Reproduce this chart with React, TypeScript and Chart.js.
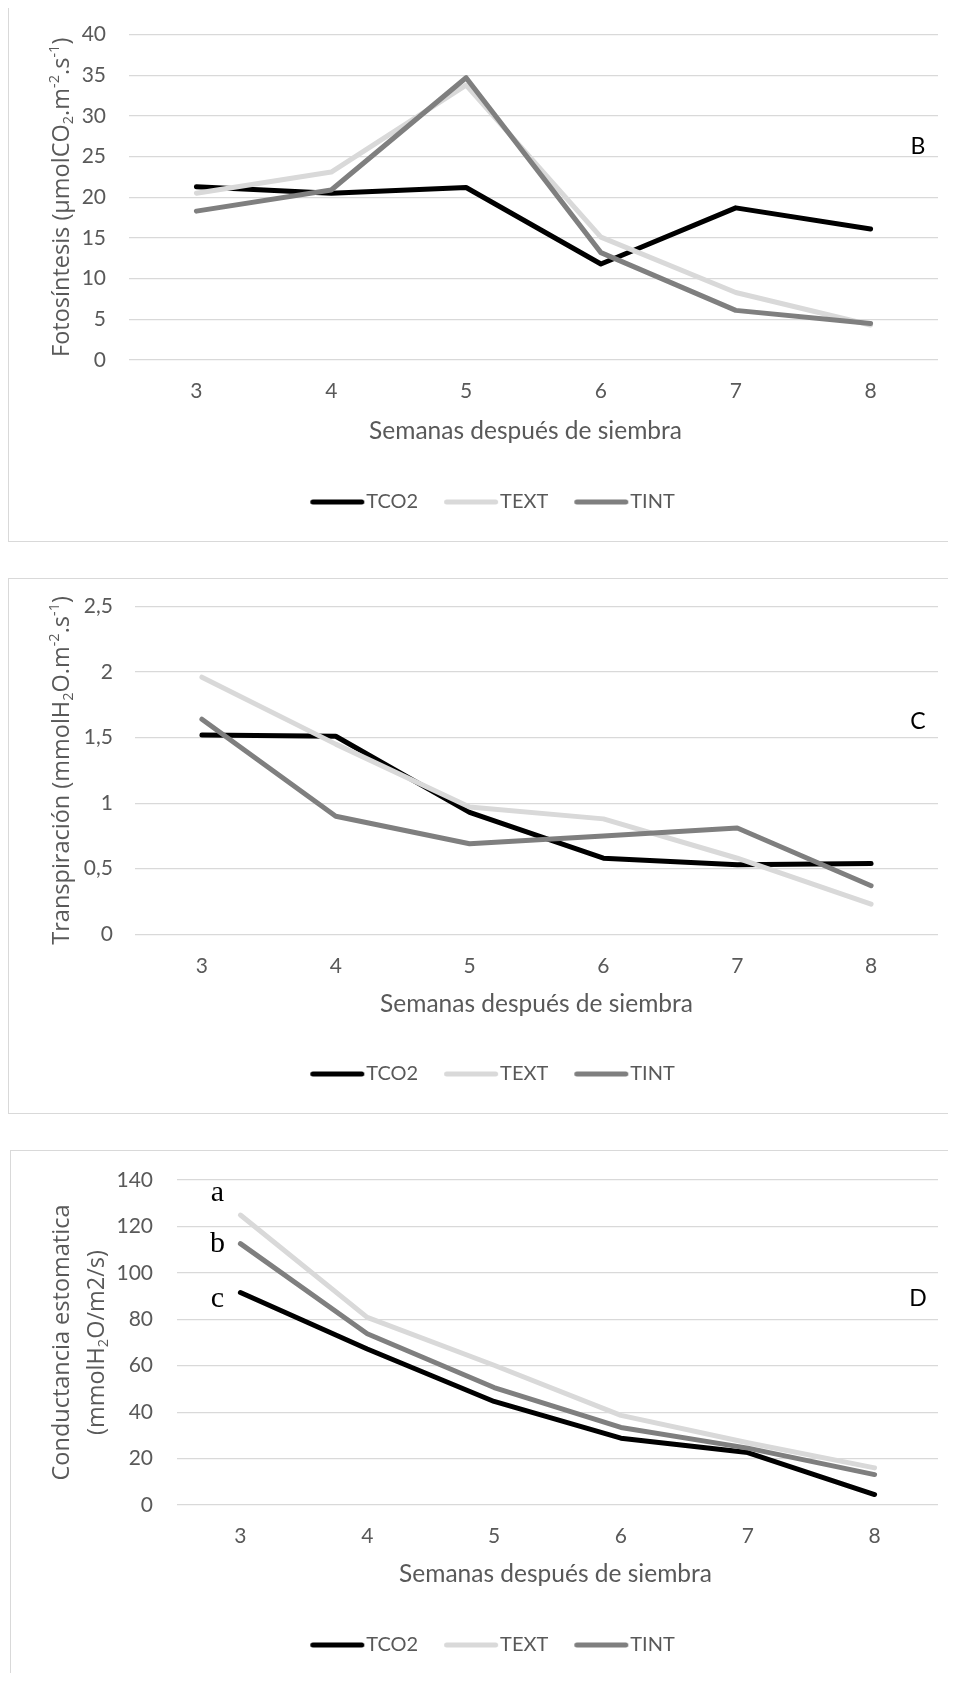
import React, { useEffect, useRef } from 'react';
import { Chart, registerables } from 'chart.js';

Chart.register(...registerables);

// ---------- data ----------
const WEEKS = ['3', '4', '5', '6', '7', '8'];
const SERIES_NAMES = ['TCO2', 'TEXT', 'TINT'];
const SERIES_COLORS = ['#000000', '#d9d9d9', '#7f7f7f'];
const X_TITLE = 'Semanas después de siembra';

const FOTO_TCO2 = [21.3, 20.5, 21.2, 11.8, 18.7, 16.1];
const FOTO_TEXT = [20.5, 23.1, 33.8, 15.1, 8.3, 4.3];
const FOTO_TINT = [18.3, 20.9, 34.7, 13.2, 6.1, 4.5];
const FOTO_Y = { min: 0, max: 40, step: 5 };

const TRANS_TCO2 = [1.52, 1.51, 0.93, 0.58, 0.53, 0.54];
const TRANS_TEXT = [1.96, 1.45, 0.97, 0.88, 0.58, 0.23];
const TRANS_TINT = [1.64, 0.9, 0.69, 0.75, 0.81, 0.37];
const TRANS_Y = { min: 0, max: 2.5, step: 0.5 };

const COND_TCO2 = [91.5, 67.2, 44.6, 28.8, 22.6, 4.5];
const COND_TEXT = [124.9, 80.8, 60.2, 38.6, 26.8, 16];
const COND_TINT = [112.6, 73.8, 50.6, 33.4, 24.5, 13.1];
const COND_Y = { min: 0, max: 140, step: 20 };

const COND_GROUP_LETTERS = ['a', 'b', 'c'];

type Seg = { t: string; s?: 'sub' | 'sup' };

const FOTO_TITLE: Seg[][] = [[
  { t: 'Fotosíntesis (µmolCO' }, { t: '2', s: 'sub' }, { t: '.m' }, { t: '-2', s: 'sup' },
  { t: '.s' }, { t: '-1', s: 'sup' }, { t: ')' },
]];
const TRANS_TITLE: Seg[][] = [[
  { t: 'Transpiración (mmolH' }, { t: '2', s: 'sub' }, { t: 'O.m' }, { t: '-2', s: 'sup' },
  { t: '.s' }, { t: '-1', s: 'sup' }, { t: ')' },
]];
const COND_TITLE: Seg[][] = [
  [{ t: 'Conductancia estomatica' }],
  [{ t: '(mmolH' }, { t: '2', s: 'sub' }, { t: 'O/m2/s)' }],
];

// ---------- layout (pixels inside each canvas) ----------
interface PanelSpec {
  series: number[][];
  y: { min: number; max: number; step: number };
  comma?: boolean;
  canvasW: number;
  canvasH: number;
  area: { left: number; right: number; top: number; bottom: number };
  padLeft: number;
  yTickPad: number;
  xTickCenter: number;
  xTitleCenter: number;
  xTitleShift: number;
  legendCenter: number;
  yTitle: { lines: Seg[][]; x: number[]; size: number };
  letter: { text: string; dy: number };
  groupLetters?: { texts: string[]; dy: number[]; dx: number };
}

const PANEL_B: PanelSpec = {
  series: [FOTO_TCO2, FOTO_TEXT, FOTO_TINT],
  y: FOTO_Y,
  canvasW: 958, canvasH: 535,
  area: { left: 120, right: 929, top: 28.6, bottom: 354 },
  padLeft: 38, yTickPad: 23,
  xTickCenter: 385, xTitleCenter: 425, xTitleShift: -8, legendCenter: 496,
  yTitle: { lines: FOTO_TITLE, x: [53], size: 23.5 },
  letter: { text: 'B', dy: 112 },
};

const PANEL_C: PanelSpec = {
  series: [TRANS_TCO2, TRANS_TEXT, TRANS_TINT],
  y: TRANS_Y, comma: true,
  canvasW: 958, canvasH: 534,
  area: { left: 126, right: 929, top: 27.4, bottom: 355.3 },
  padLeft: 38, yTickPad: 22,
  xTickCenter: 387, xTitleCenter: 425, xTitleShift: 0, legendCenter: 495,
  yTitle: { lines: TRANS_TITLE, x: [53], size: 23.5 },
  letter: { text: 'C', dy: 115 },
};

const PANEL_D: PanelSpec = {
  series: [COND_TCO2, COND_TEXT, COND_TINT],
  y: COND_Y,
  canvasW: 958, canvasH: 598,
  area: { left: 166, right: 927, top: 29, bottom: 354 },
  padLeft: 36, yTickPad: 24,
  xTickCenter: 385, xTitleCenter: 423, xTitleShift: -2, legendCenter: 494,
  yTitle: { lines: COND_TITLE, x: [51, 86], size: 23.5 },
  letter: { text: 'D', dy: 119 },
  groupLetters: { texts: COND_GROUP_LETTERS, dy: [13.5, 64.5, 119.5], dx: -23 },
};

const TEXT_GREY = '#595959';
const GRID = '#d9d9d9';
const TICK_FONT = { family: 'Lato', size: 21 };
const LEGEND_FONT = { family: 'Lato', size: 20 };
const XTITLE_SIZE = 24.5;
const LEGEND_PAD = 26;
const LEGEND_BOX = 46;
const LEGEND_LINE = 54;

function legendSwatch(color: string): HTMLCanvasElement {
  // image centred on the legend box; the line sits flush against the label
  const w = LEGEND_LINE * 2;
  const c = document.createElement('canvas');
  c.width = w;
  c.height = 10;
  const g = c.getContext('2d')!;
  const left = w / 2 - LEGEND_BOX / 2;
  g.strokeStyle = color;
  g.lineWidth = 5;
  g.lineCap = 'round';
  g.beginPath();
  g.moveTo(left + 2.5, 5);
  g.lineTo(left + LEGEND_LINE - 2.5, 5);
  g.stroke();
  return c;
}

function makeExtras(p: PanelSpec) {
  return {
    id: 'extras',
    afterDraw(chart: any) {
      const ctx: CanvasRenderingContext2D = chart.ctx;
      const a = chart.chartArea;
      const cy = (a.top + a.bottom) / 2;
      const size = p.yTitle.size;
      p.yTitle.lines.forEach((line, li) => {
        ctx.save();
        ctx.translate(p.yTitle.x[li], cy);
        ctx.rotate(-Math.PI / 2);
        ctx.fillStyle = TEXT_GREY;
        ctx.textBaseline = 'middle';
        ctx.textAlign = 'left';
        const parts = line.map((seg) => {
          const fs = seg.s ? size * 0.62 : size;
          ctx.font = `${fs}px "Open Sans"`;
          return { seg, fs, w: ctx.measureText(seg.t).width };
        });
        const total = parts.reduce((s, q) => s + q.w, 0);
        let cx = -total / 2;
        parts.forEach((q) => {
          ctx.font = `${q.fs}px "Open Sans"`;
          const dy = q.seg.s === 'sub' ? size * 0.28 : q.seg.s === 'sup' ? -size * 0.3 : 0;
          ctx.fillText(q.seg.t, cx, dy);
          cx += q.w;
        });
        ctx.restore();
      });
      // x-axis title
      ctx.save();
      ctx.fillStyle = TEXT_GREY;
      ctx.font = `${XTITLE_SIZE}px Lato`;
      ctx.textAlign = 'center';
      ctx.textBaseline = 'middle';
      ctx.fillText(X_TITLE, (a.left + a.right) / 2 + p.xTitleShift, p.xTitleCenter);
      ctx.restore();
      // panel letter
      ctx.save();
      ctx.fillStyle = '#000';
      ctx.font = '23px Lato';
      ctx.textAlign = 'center';
      ctx.textBaseline = 'middle';
      ctx.fillText(p.letter.text, a.right - 20, a.top + p.letter.dy);
      ctx.restore();
      if (p.groupLetters) {
        const gl = p.groupLetters;
        const x0 = chart.scales.x.getPixelForValue(0) + gl.dx;
        ctx.save();
        ctx.fillStyle = '#000';
        ctx.font = '30px "Liberation Serif"';
        ctx.textAlign = 'center';
        ctx.textBaseline = 'middle';
        gl.texts.forEach((t, i) => ctx.fillText(t, x0, a.top + gl.dy[i]));
        ctx.restore();
      }
    },
  };
}

function buildConfig(p: PanelSpec): any {
  const legendItemH = LEGEND_FONT.size;
  const legendTop = p.legendCenter - LEGEND_PAD - legendItemH / 2;
  const legendH = legendItemH + LEGEND_PAD + 10;
  const tickLH = TICK_FONT.size * 1.2;
  const xHeight = legendTop - p.area.bottom;
  const swatches = SERIES_COLORS.map(legendSwatch);
  return {
    type: 'line',
    data: {
      labels: WEEKS,
      datasets: p.series.map((d, i) => ({
        label: SERIES_NAMES[i],
        data: d,
        borderColor: SERIES_COLORS[i],
        backgroundColor: SERIES_COLORS[i],
        borderWidth: 5,
        pointRadius: 0,
        pointHoverRadius: 0,
        tension: 0,
        borderCapStyle: 'round',
        borderJoinStyle: 'round',
        order: 3 - i,
      })),
    },
    options: {
      responsive: false,
      animation: false,
      events: [],
      layout: {
        padding: {
          left: p.padLeft,
          right: p.canvasW - p.area.right,
          top: p.area.top,
          bottom: p.canvasH - legendTop - legendH,
        },
      },
      scales: {
        x: {
          type: 'category',
          offset: true,
          grid: { display: false, drawTicks: false },
          border: { display: false },
          ticks: {
            padding: p.xTickCenter - p.area.bottom - tickLH / 2,
            color: TEXT_GREY,
            font: TICK_FONT,
            maxRotation: 0,
            autoSkip: false,
          },
          title: { display: false },
          afterFit: (s: any) => {
            s.height = xHeight;
            s.paddingLeft = 0;
            s.paddingRight = 0;
          },
        },
        y: {
          min: p.y.min,
          max: p.y.max,
          ticks: {
            stepSize: p.y.step,
            padding: p.yTickPad,
            color: TEXT_GREY,
            font: TICK_FONT,
            callback: (v: any) => (p.comma ? String(v).replace('.', ',') : String(v)),
          },
          grid: { color: GRID, lineWidth: 1.2, drawTicks: false },
          border: { display: false },
          afterFit: (s: any) => {
            s.width = p.area.left - p.padLeft;
            s.paddingTop = 0;
            s.paddingBottom = 0;
          },
        },
      },
      plugins: {
        legend: {
          position: 'bottom',
          labels: {
            sort: (a: any, b: any) => a.datasetIndex - b.datasetIndex,
            generateLabels: (chart: any) =>
              Chart.defaults.plugins.legend.labels.generateLabels(chart).map((it: any) => ({
                ...it,
                pointStyle: swatches[it.datasetIndex],
              })),
            usePointStyle: true,
            pointStyleWidth: LEGEND_BOX,
            padding: LEGEND_PAD,
            color: TEXT_GREY,
            font: LEGEND_FONT,
          },
        },
        tooltip: { enabled: false },
      },
    },
    plugins: [makeExtras(p)],
  };
}

function Panel({ spec, box }: { spec: PanelSpec; box: { left: number; top: number; width: number; height: number } }) {
  const ref = useRef<HTMLCanvasElement | null>(null);
  useEffect(() => {
    if (!ref.current) return;
    const chart = new Chart(ref.current, buildConfig(spec));
    return () => chart.destroy();
  }, [spec]);
  return (
    <div
      style={{
        position: 'absolute',
        left: box.left,
        top: box.top,
        width: box.width,
        height: box.height,
        boxSizing: 'border-box',
        border: '1px solid #d9d9d9',
        background: '#fff',
      }}
    >
      <canvas ref={ref} width={spec.canvasW} height={spec.canvasH} style={{ display: 'block', width: spec.canvasW, height: spec.canvasH }} />
    </div>
  );
}

export default function App() {
  return (
    <div
      style={{
        position: 'relative',
        width: 956,
        height: 1681,
        margin: '-8px 0 -8px -8px',
        overflow: 'hidden',
        background: '#fff',
      }}
    >
      <Panel spec={PANEL_B} box={{ left: 8, top: 5, width: 960, height: 537 }} />
      <Panel spec={PANEL_C} box={{ left: 8, top: 578, width: 960, height: 536 }} />
      <Panel spec={PANEL_D} box={{ left: 10, top: 1150, width: 960, height: 600 }} />
    </div>
  );
}
